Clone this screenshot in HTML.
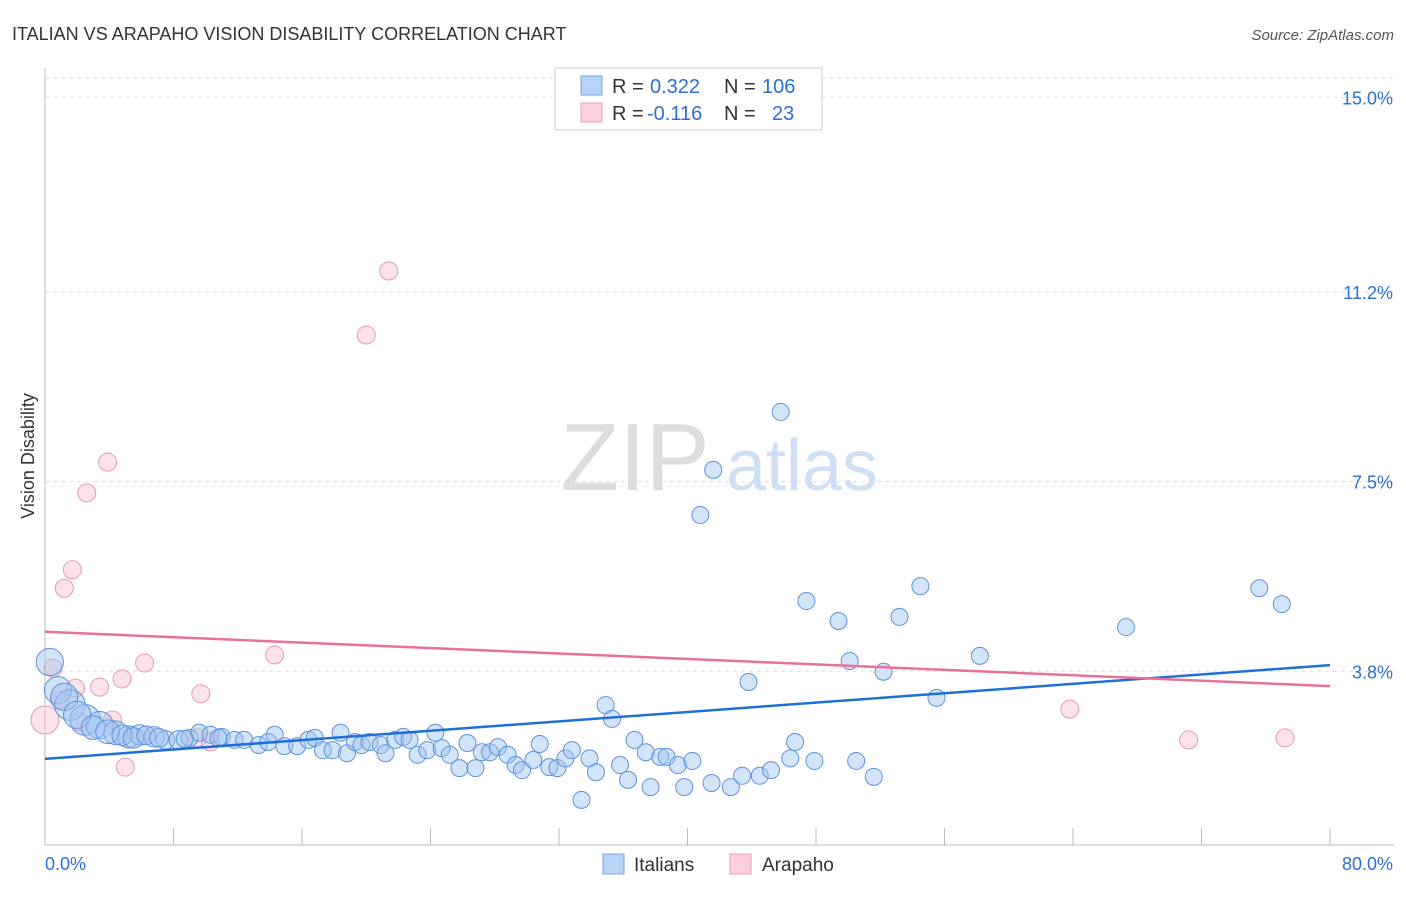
<!DOCTYPE html>
<html><head><meta charset="utf-8"><style>
body{margin:0;background:#fff;font-family:"Liberation Sans",sans-serif;}
svg text{font-family:"Liberation Sans",sans-serif;}
</style></head><body>
<svg id="chart" width="1406" height="892" viewBox="0 0 1406 892" xmlns="http://www.w3.org/2000/svg">
<text x="12" y="40" font-size="18" fill="#333">ITALIAN VS ARAPAHO VISION DISABILITY CORRELATION CHART</text>
<text x="1394" y="40" font-size="15" fill="#555" text-anchor="end" font-style="italic">Source: ZipAtlas.com</text>
<g>
<text x="635" y="490" font-size="96" fill="#ddd" font-family="Liberation Serif,serif" text-anchor="middle">ZIP</text>
<text x="802" y="490" font-size="72" fill="#cfe0f4" text-anchor="middle">atlas</text>
</g>
<g id="grid"></g>
<g id="axes"></g>
<g id="marks"></g>
<text transform="translate(34,456) rotate(-90)" font-size="18" fill="#333" text-anchor="middle">Vision Disability</text>
<g>
<rect x="555" y="68" width="267" height="62" fill="#fff" stroke="#ccc"/>
<rect x="581" y="76" width="21" height="19" fill="#b8d3f5" stroke="#7aa7e0"/>
<text x="612" y="93" font-size="20" fill="#333">R =</text>
<text x="650" y="93" font-size="20" fill="#2c6fd6">0.322</text>
<text x="724" y="93" font-size="20" fill="#333">N =</text>
<text x="762" y="93" font-size="20" fill="#2c6fd6">106</text>
<rect x="581" y="103" width="21" height="19" fill="#fbd0dc" stroke="#e8a0b5"/>
<text x="612" y="120" font-size="20" fill="#333">R =</text>
<text x="647" y="120" font-size="20" fill="#2c6fd6">-0.116</text>
<text x="724" y="120" font-size="20" fill="#333">N =</text>
<text x="772" y="120" font-size="20" fill="#2c6fd6">23</text>
</g>
<g>
<rect x="603" y="854" width="21" height="20" fill="#b8d3f5" stroke="#7aa7e0"/>
<text x="634" y="871" font-size="19" fill="#333">Italians</text>
<rect x="730" y="854" width="21" height="20" fill="#fbd0dc" stroke="#e8a0b5"/>
<text x="762" y="871" font-size="19" fill="#333">Arapaho</text>
</g>
</svg>
<script>
const yTicks=[3.8,7.5,11.2,15.0];
const yTickLabels=["3.8%","7.5%","11.2%","15.0%"];
const xTickLabels=["0.0%","80.0%"];
const italianX=[0.3,0.8,1.56,2.5,3.4,4.4,5.2,5.9,6.8,7.5,8.3,9.0,9.6,10.3,11.0,11.8,12.4,13.3,13.9,14.3,14.9,15.7,16.4,16.8,17.3,17.9,18.4,18.8,19.3,19.7,20.2,20.9,21.2,21.8,22.3,22.7,23.2,23.8,24.3,24.7,25.2,25.8,26.3,26.8,27.2,27.7,28.2,28.8,29.3,29.7,30.4,30.8,31.4,31.9,32.4,32.8,33.4,33.9,34.3,34.9,35.3,35.8,36.3,36.7,37.4,37.7,38.3,38.7,39.4,39.8,40.3,41.5,42.7,43.4,43.8,44.5,45.2,45.8,46.4,46.7,47.4,47.9,49.4,50.1,50.5,51.6,52.2,53.2,54.5,55.5,58.2,67.3,75.6,77.0,40.8,41.6,1.2,2.0,3.0,3.9,4.8,5.5,6.3,7.1,8.7,10.8];
const italianY=[3.98,3.43,3.14,2.85,2.75,2.6,2.52,2.56,2.52,2.46,2.46,2.5,2.6,2.56,2.52,2.46,2.46,2.36,2.42,2.56,2.34,2.34,2.46,2.5,2.26,2.26,2.6,2.2,2.42,2.36,2.42,2.36,2.2,2.46,2.52,2.46,2.17,2.26,2.6,2.3,2.17,1.91,2.4,1.91,2.22,2.22,2.32,2.17,1.97,1.87,2.07,2.38,1.93,1.91,2.1,2.26,1.29,2.1,1.83,3.14,2.87,1.97,1.68,2.46,2.22,1.54,2.13,2.13,1.97,1.54,2.05,1.62,1.54,1.76,3.59,1.76,1.87,8.86,2.1,2.42,5.17,2.05,4.78,4.0,2.05,1.74,3.79,4.86,5.46,3.28,4.1,4.66,5.42,5.11,6.85,7.73,3.3,2.95,2.7,2.62,2.55,2.5,2.55,2.5,2.48,2.5];
const italianSize=[16,16,18,18,16,14,13,12,12,11,11,10,10,10,10,10,10,10,10,10,10,10,10,10,10,10,10,10,10,10,10,10,10,10,10,10,10,10,10,10,10,10,10,10,10,10,10,10,10,10,10,10,10,10,10,10,10,10,10,10,10,10,10,10,10,10,10,10,10,10,10,10,10,10,10,10,10,10,10,10,10,10,10,10,10,10,10,10,10,10,10,10,10,10,10,10,16,16,14,14,12,12,11,11,10,10];
const arapahoX=[0,0.5,1.9,1.2,1.7,2.6,3.9,3.4,4.2,4.8,5.0,6.2,9.7,9.5,10.3,14.3,20.0,21.4,63.8,71.2,77.2,0.9,2.2];
const arapahoY=[2.85,3.86,3.47,5.42,5.78,7.28,7.88,3.49,2.85,3.65,1.93,3.96,3.36,2.5,2.42,4.12,10.36,11.61,3.06,2.46,2.5,3.24,2.81];
const arapahoSize=[14,9,9,9,9,9,9,9,9,9,9,9,9,9,9,9,9,9,9,9,9,9,9];
const italianTrend=[2.09,3.92];
const arapahoTrend=[4.57,3.51];
const xDomain=[0,80];
const NS="http://www.w3.org/2000/svg";
const X0=45,X1=1330,YBASE=866,YPX=51.25;
const xs=v=>X0+(v-xDomain[0])/(xDomain[1]-xDomain[0])*(X1-X0);
const ys=v=>YBASE-v*YPX;
function mk(tag,attrs,parent){const e=document.createElementNS(NS,tag);for(const k in attrs)e.setAttribute(k,attrs[k]);parent.appendChild(e);return e;}
const grid=document.getElementById('grid'),axes=document.getElementById('axes'),marks=document.getElementById('marks');
mk('line',{x1:X0,x2:1394,y1:78,y2:78,stroke:'#ddd','stroke-dasharray':'4,4'},grid);
yTicks.forEach((t,i)=>{
 const l=mk('line',{x1:X0,x2:1394,y1:ys(t),y2:ys(t),stroke:'#ddd','stroke-dasharray':'4,4'},grid);
 
 
 const tx=mk('text',{x:1393,y:ys(t)+7,'font-size':18,fill:'#2c6fd6','text-anchor':'end'},axes);
 tx.textContent=yTickLabels[i];
 
 
});
const ax=mk('line',{x1:X0,x2:X0,y1:68,y2:845,stroke:'#bbb'},axes);


const bx=mk('line',{x1:X0,x2:1394,y1:845,y2:845,stroke:'#bbb'},axes);


for(let i=0;i<=10;i++){const t=mk('line',{x1:xs(i*8),x2:xs(i*8),y1:828,y2:845,stroke:'#bbb'},axes);
 
 }
const xl0=mk('text',{x:45,y:870,'font-size':18,fill:'#2c6fd6'},axes);xl0.textContent=xTickLabels[0];


const xl1=mk('text',{x:1393,y:870,'font-size':18,fill:'#2c6fd6','text-anchor':'end'},axes);xl1.textContent=xTickLabels[1];


arapahoX.forEach((v,i)=>{const c=mk('circle',{cx:xs(v),cy:ys(arapahoY[i]),r:arapahoSize[i],fill:'rgba(248,190,208,0.45)',stroke:'#e89ab2','stroke-width':1},marks);
 
 });
italianX.forEach((v,i)=>{const c=mk('circle',{cx:xs(v),cy:ys(italianY[i]),r:italianSize[i]*0.85,fill:'rgba(160,196,240,0.45)',stroke:'#5b93dc','stroke-width':1},marks);
 
 });
const tb=mk('line',{x1:xs(xDomain[0]),x2:xs(xDomain[1]),y1:ys(italianTrend[0]),y2:ys(italianTrend[1]),stroke:'#1f6fd6','stroke-width':2.5},marks);


const tp=mk('line',{x1:xs(xDomain[0]),x2:xs(xDomain[1]),y1:ys(arapahoTrend[0]),y2:ys(arapahoTrend[1]),stroke:'#e8709a','stroke-width':2.5},marks);


</script>
</body></html>
